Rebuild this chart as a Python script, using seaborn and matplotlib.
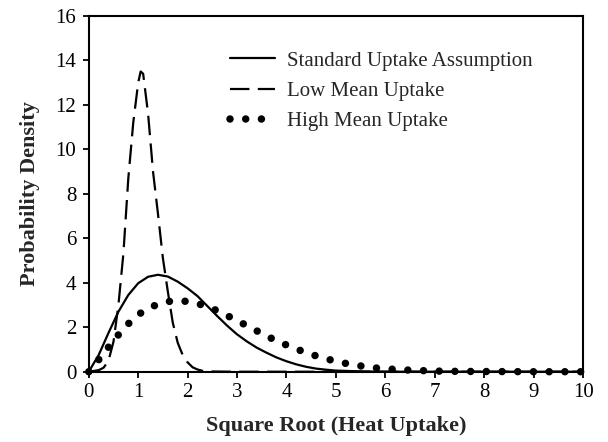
import matplotlib
matplotlib.use("Agg")
import matplotlib.pyplot as plt
import seaborn as sns
import pandas as pd

# ---- data ----
std_x = [0, 0.2, 0.4, 0.6, 0.8, 1.0, 1.2, 1.4, 1.6, 1.8, 2.0, 2.2, 2.4, 2.6, 2.8,
         3.0, 3.2, 3.4, 3.6, 3.8, 4.0, 4.2, 4.4, 4.6, 4.8, 5.0, 5.5, 6.0, 7.0, 8.0, 9.0, 10.0]
std_y = [0, 0.75, 1.75, 2.7, 3.45, 3.98, 4.27, 4.36, 4.28, 4.05, 3.75, 3.4, 2.95, 2.5, 2.07,
         1.68, 1.36, 1.08, 0.85, 0.64, 0.47, 0.33, 0.22, 0.14, 0.09, 0.05, 0.015, 0.0, 0, 0, 0, 0]

low_x = [0, 0.2, 0.3, 0.4, 0.5, 0.6, 0.7, 0.8, 0.9, 1.0, 1.05, 1.1, 1.2, 1.3, 1.4, 1.5,
         1.6, 1.7, 1.8, 1.9, 2.0, 2.1, 2.2, 2.3, 2.5, 3.0, 10.0]
low_y = [0, 0.07, 0.18, 0.5, 1.35, 3.0, 5.3, 8.7, 11.2, 13.0, 13.5, 13.4, 11.6, 9.0, 7.1, 5.1,
         3.6, 2.2, 1.3, 0.75, 0.42, 0.2, 0.1, 0.04, 0.01, 0, 0]

high_x = [0, 0.25, 0.5, 0.75, 1.0, 1.25, 1.5, 1.75, 2.0, 2.25, 2.5, 2.75, 3.0, 3.25, 3.5,
          3.75, 4.0, 4.25, 4.5, 4.75, 5.0, 5.25, 5.5, 5.75, 6.0, 6.5, 7.0, 7.5, 8.0, 9.0, 10.0]
high_y = [0, 0.67, 1.4, 2.05, 2.57, 2.9, 3.12, 3.2, 3.16, 3.03, 2.84, 2.58, 2.3, 2.01, 1.72,
          1.44, 1.2, 0.98, 0.78, 0.61, 0.47, 0.35, 0.26, 0.18, 0.13, 0.07, 0.03, 0.015, 0.01, 0, 0]

series_names = ["Standard Uptake Assumption", "Low Mean Uptake", "High Mean Uptake"]
x_ticks = [0, 1, 2, 3, 4, 5, 6, 7, 8, 9, 10]
y_ticks = [0, 2, 4, 6, 8, 10, 12, 14, 16]
x_label = "Square Root (Heat Uptake)"
y_label = "Probability Density"

# ---- style ----
sns.set_theme(style="ticks")
plt.rcParams["font.family"] = ["Liberation Serif", "DejaVu Serif"]
plt.rcParams["lines.scale_dashes"] = False

fig = plt.figure(figsize=(6.08, 4.42), dpi=100)
ax = fig.add_axes([0.146, 0.159, 0.813, 0.805])

df_std = pd.DataFrame({"x": std_x, "y": std_y})
df_low = pd.DataFrame({"x": low_x, "y": low_y})
df_high = pd.DataFrame({"x": high_x, "y": high_y})

sns.lineplot(data=df_std, x="x", y="y", ax=ax, color="black", lw=1.6,
             label=series_names[0], sort=False)
sns.lineplot(data=df_low, x="x", y="y", ax=ax, color="black", lw=1.6,
             label=series_names[1], sort=False, dashes=False,
             linestyle=(0, (14, 6)))
sns.lineplot(data=df_high, x="x", y="y", ax=ax, color="black", lw=5.4,
             label=series_names[2], sort=False, dashes=False,
             linestyle=(0, (0.01, 11.3)), dash_capstyle="round", clip_on=False)

ax.set_xlim(0, 10)
ax.set_ylim(0, 16)
ax.set_xticks(x_ticks)
ax.set_yticks(y_ticks)
ax.set_xticklabels([str(v) for v in x_ticks])
ax.set_yticklabels([str(v) for v in y_ticks])
ax.tick_params(axis="both", direction="out", length=4, width=1.3, labelsize=15,
               colors="black", pad=4)
ax.tick_params(axis="y", pad=5)
for s in ax.spines.values():
    s.set_visible(True)
    s.set_linewidth(1.5)
    s.set_color("black")

ax.set_xlabel(x_label, fontsize=16, fontweight="bold", labelpad=10)
ax.set_ylabel(y_label, fontsize=16, fontweight="bold", labelpad=11)

leg = ax.legend(loc="upper left", bbox_to_anchor=(0.268, 0.925), frameon=False,
                fontsize=15, handlelength=2.16, handletextpad=0.58, labelspacing=0.52,
                borderaxespad=0)

fig.savefig("out.png", dpi=100)
